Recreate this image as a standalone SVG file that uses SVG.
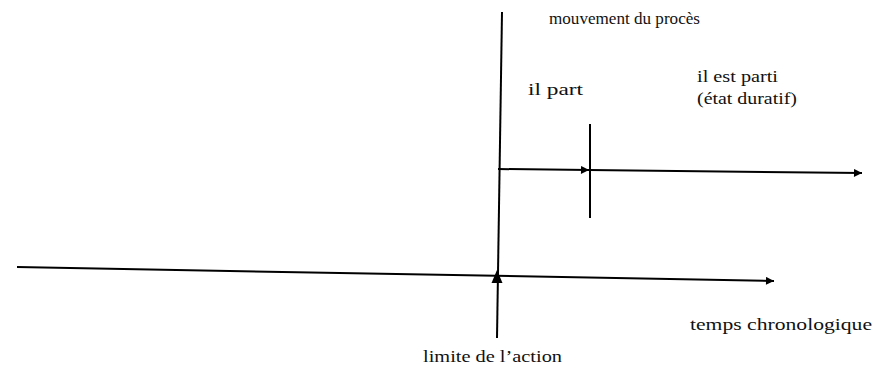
<svg xmlns="http://www.w3.org/2000/svg" width="873" height="371" viewBox="0 0 873 371">
<style>
.ln{stroke:#000;stroke-width:2;fill:none}
.t{font-family:"Liberation Serif","DejaVu Serif","Times New Roman",serif;font-size:16px;fill:#111}
</style>
<defs>
<marker id="ah" viewBox="0 0 10 10" refX="10" refY="5" markerWidth="11" markerHeight="8" markerUnits="userSpaceOnUse" orient="auto">
<path d="M0,0 L10,5 L0,10 z" fill="#000"/>
</marker>
</defs>
<rect width="873" height="371" fill="#fff"/>
<g id="connectors">
<line class="ln" x1="502" y1="12" x2="497" y2="338"/>
<line class="ln" x1="17" y1="267" x2="774" y2="281" marker-end="url(#ah)"/>
<polygon points="497,270 491.5,283 502.5,283" fill="#000"/>
<line class="ln" x1="498" y1="169" x2="589" y2="170" marker-end="url(#ah)"/>
<line class="ln" x1="589" y1="170" x2="862" y2="173" marker-end="url(#ah)"/>
<line class="ln" x1="590" y1="124" x2="590" y2="218"/>
</g>
<g id="label-mouvement"><text class="t" x="549" y="24" textLength="151" lengthAdjust="spacingAndGlyphs">mouvement du procès</text></g>
<g id="label-il-part"><text class="t" x="528" y="95" textLength="55" lengthAdjust="spacingAndGlyphs">il part</text></g>
<g id="label-il-est-parti"><text class="t" x="697" y="82" textLength="81" lengthAdjust="spacingAndGlyphs">il est parti</text><text class="t" x="697" y="104" textLength="100" lengthAdjust="spacingAndGlyphs">(état duratif)</text></g>
<g id="label-temps"><text class="t" x="690" y="330" textLength="182" lengthAdjust="spacingAndGlyphs">temps chronologique</text></g>
<g id="label-limite"><text class="t" x="423" y="362" textLength="139" lengthAdjust="spacingAndGlyphs">limite de l’action</text></g>
</svg>
